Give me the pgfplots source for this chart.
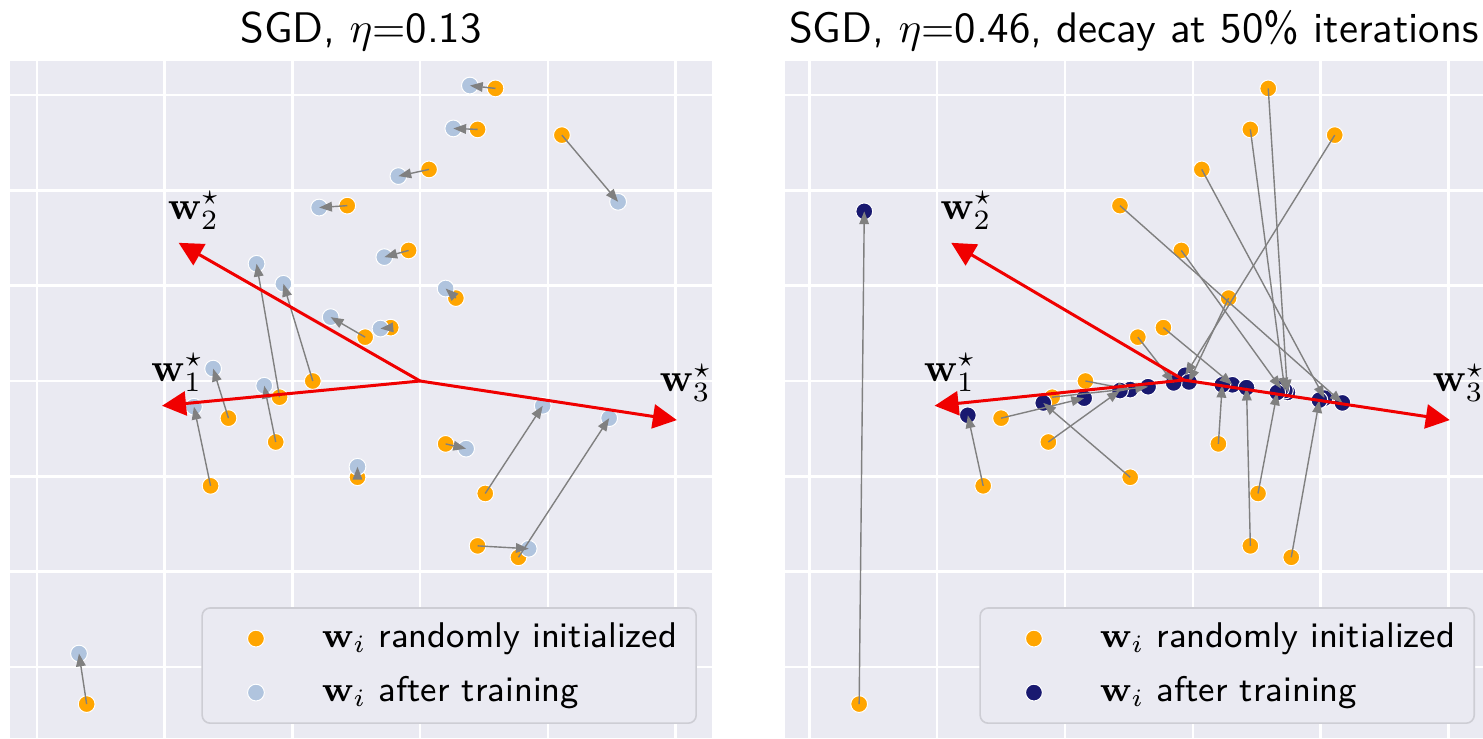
\RequirePackage{fix-cm}
\documentclass[border=0pt]{standalone}
\usepackage{pgfplots}
\pgfplotsset{compat=1.18}
\usepackage{pgfplotstable}
\usetikzlibrary{arrows.meta}

\definecolor{bgc}{HTML}{EAEAF2}
\definecolor{initc}{HTML}{FFA500}
\definecolor{lightc}{HTML}{B0C4DE}
\definecolor{navyc}{HTML}{191970}
\definecolor{legedge}{HTML}{CDCDD4}
\definecolor{arrowgray}{HTML}{808080}
\definecolor{teacher}{HTML}{F00000}

% student neurons: initial position (ox,oy) and position after training (bx,by)
\pgfplotstableread{
ox     oy     bx     by
 0.59   3.07   0.39   3.10
 0.45   2.64   0.26   2.65
 1.11   2.58   1.55   1.88
 0.07   2.22  -0.17   2.15
-0.57   1.84  -0.79   1.82
-0.09   1.37  -0.28   1.30
 0.28   0.87   0.20   0.97
-0.43   0.46  -0.70   0.67
-0.23   0.56  -0.31   0.55
-0.84   0.00  -1.07   1.02
-1.10  -0.17  -1.28   1.23
-1.13  -0.64  -1.22  -0.05
-1.50  -0.39  -1.62   0.13
-1.64  -1.10  -1.77  -0.27
-0.49  -1.01  -0.49  -0.90
 0.20  -0.66   0.36  -0.71
 0.51  -1.18   0.96  -0.26
 0.45  -1.73   0.85  -1.76
 0.77  -1.85   1.48  -0.39
-2.61  -3.39  -2.67  -2.86
}\pairsleft

\pgfplotstableread{
ox     oy     bx     by
 0.59   3.07   0.74  -0.12
 0.45   2.64   0.72  -0.10
 1.11   2.58  -0.06   0.06
 0.07   2.22   1.03  -0.18
-0.57   1.84   1.17  -0.23
-0.09   1.37   0.69  -0.08
 0.28   0.87  -0.03  -0.01
-0.43   0.46  -0.15  -0.02
-0.23   0.56   0.31  -0.04
-0.84   0.00  -0.49  -0.09
-1.10  -0.17  -0.35  -0.06
-1.50  -0.39  -0.85  -0.18
-1.13  -0.64  -0.57  -0.10
-1.64  -1.10  -1.76  -0.36
-0.49  -1.01  -1.17  -0.23
 0.20  -0.66   0.23  -0.04
 0.51  -1.18   0.66  -0.12
 0.45  -1.73   0.42  -0.07
 0.77  -1.85   0.99  -0.20
-2.61  -3.39  -2.57   1.78
}\pairsright

% teacher directions w1*, w2*, w3*
\pgfplotstableread{
ox     oy     tx     ty
 0.00   0.00  -2.02  -0.26
 0.00   0.00  -1.89   1.45
 0.00   0.00   2.01  -0.41
}\teacherleft

\pgfplotstableread{
ox     oy     tx     ty
-0.07   0.01  -2.02  -0.26
-0.07   0.01  -1.89   1.45
-0.07   0.01   2.01  -0.41
}\teacherright

\pgfplotsset{
  every axis title/.style={at={(0.5,1)}, anchor=base, yshift=4.5pt,
    font=\sffamily\fontsize{10.7}{12}\selectfont},
  panel/.style={
    scale only axis, height=169.25pt,
    ymin=-3.746, ymax=3.358,
    xtick={-3,...,2}, ytick={-3,...,3},
    xticklabels={}, yticklabels={},
    grid=major, major grid style={white, line width=0.6pt},
    axis line style={draw=none}, tick style={draw=none},
    axis background/.style={fill=bgc},
    clip marker paths=true,
    legend cell align=left,
    legend style={anchor=south east, fill=bgc, draw=legedge,
      line width=0.4pt, rounded corners=2pt,
      inner xsep=4.75pt, inner ysep=2.9pt, row sep=4pt, column sep=4.75pt,
      font=\sffamily\fontsize{8.93}{10.7}\selectfont,
      nodes={inner sep=0pt, text height=7pt, text depth=2.5pt}},
    legend image code/.code={%
      \path (0pt,0pt) (20pt,0pt);
      \draw[#1, mark repeat=2, mark phase=2]
        plot coordinates {(-1.5pt,0pt) (8.5pt,0pt) (18.5pt,0pt)};},
  },
  dot/.style={only marks, mark=*, mark size=2.1pt,
    mark options={fill=#1, draw=white, line width=0.25pt}},
  move/.style={forget plot, arrowgray, line width=0.35pt,
    -{Triangle[length=3.2pt,width=2.4pt]},
    quiver={u=\thisrow{bx}-\thisrow{ox}, v=\thisrow{by}-\thisrow{oy}}},
  star/.style={forget plot, teacher, line width=0.75pt,
    -{Triangle[length=6pt,width=6pt]},
    quiver={u=\thisrow{tx}-\thisrow{ox}, v=\thisrow{ty}-\thisrow{oy}}},
}

\begin{document}
\begin{tikzpicture}
\useasboundingbox (0pt,0pt) rectangle (370.75pt,184.5pt);

% ---- constant learning rate ----
\begin{axis}[panel, at={(2.5pt,0pt)}, anchor=south west,
  width=175.5pt, xmin=-3.21, xmax=2.285,
  title={SGD, $\eta$=0.13},
  legend style={at={(0.9786,0.0207)}}]
\addplot[dot=initc] table[x=ox, y=oy] {\pairsleft};
\addlegendentry{$\mathbf{w}_i$ randomly initialized}
\addplot[dot=lightc] table[x=bx, y=by] {\pairsleft};
\addlegendentry{$\mathbf{w}_i$ after training}
\addplot[move] table[x=ox, y=oy] {\pairsleft};
\addplot[star] table[x=ox, y=oy] {\teacherleft};
\node[font=\fontsize{10}{12}\selectfont] at (axis cs:-1.90,0.09) {$\mathbf{w}_1^\star$};
\node[font=\fontsize{10}{12}\selectfont] at (axis cs:-1.77,1.79) {$\mathbf{w}_2^\star$};
\node[font=\fontsize{10}{12}\selectfont] at (axis cs:2.08,-0.02) {$\mathbf{w}_3^\star$};
\end{axis}

% ---- larger learning rate with decay ----
\begin{axis}[panel, at={(196.25pt,0pt)}, anchor=south west,
  width=174.5pt, xmin=-3.19, xmax=2.27,
  title={SGD, $\eta$=0.46, decay at 50\% iterations},
  legend style={at={(0.9885,0.0207)}}]
\addplot[dot=initc] table[x=ox, y=oy] {\pairsright};
\addlegendentry{$\mathbf{w}_i$ randomly initialized}
\addplot[dot=navyc] table[x=bx, y=by] {\pairsright};
\addlegendentry{$\mathbf{w}_i$ after training}
\addplot[move] table[x=ox, y=oy] {\pairsright};
\addplot[star] table[x=ox, y=oy] {\teacherright};
\node[font=\fontsize{10}{12}\selectfont] at (axis cs:-1.90,0.09) {$\mathbf{w}_1^\star$};
\node[font=\fontsize{10}{12}\selectfont] at (axis cs:-1.77,1.79) {$\mathbf{w}_2^\star$};
\node[font=\fontsize{10}{12}\selectfont] at (axis cs:2.08,-0.02) {$\mathbf{w}_3^\star$};
\end{axis}
\end{tikzpicture}
\end{document}
